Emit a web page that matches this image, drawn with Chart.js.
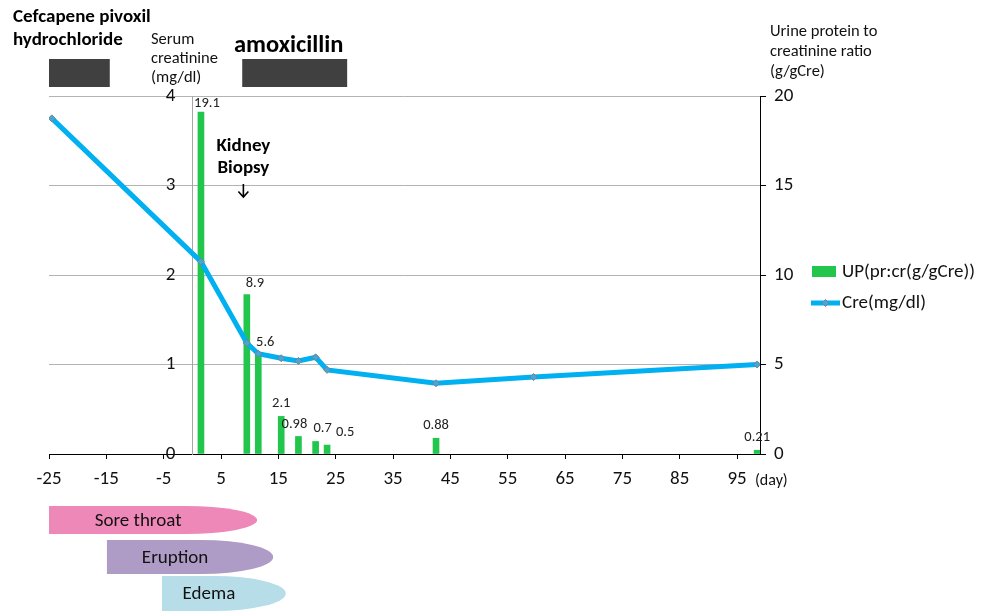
<!DOCTYPE html>
<html><head><meta charset="utf-8">
<script src="https://cdn.jsdelivr.net/npm/chart.js@4.4.1/dist/chart.umd.min.js"></script>
<style>html,body{margin:0;padding:0;background:#fff}#wrap{width:988px;height:611px;position:relative}</style>
</head><body><div id="wrap"><canvas id="c" width="988" height="611"></canvas></div>
<script>
// ---- data ----
const creDays = [-24.5, 1.5, 9.5, 11.5, 15.5, 18.5, 21.5, 23.5, 42.5, 59.5, 98.5];
const creValues = [3.75, 2.15, 1.24, 1.12, 1.07, 1.04, 1.08, 0.94, 0.79, 0.86, 1.0];
const upDays = [1.5, 9.5, 11.5, 15.5, 18.5, 21.5, 23.5, 42.5, 98.5];
const upValues = [19.1, 8.9, 5.6, 2.1, 0.98, 0.7, 0.5, 0.88, 0.21];
const upLabels = ['19.1', '8.9', '5.6', '2.1', '0.98', '0.7', '0.5', '0.88', '0.21'];
const xTicks = [-25, -15, -5, 5, 15, 25, 35, 45, 55, 65, 75, 85, 95];
const creTicks = [0, 1, 2, 3, 4];
const upTicks = [0, 5, 10, 15, 20];
const drugNames = ['Cefcapene pivoxil', 'amoxicillin'];
const drugStart = [-25, 8.7];
const drugEnd = [-14.4, 27];
const symptomNames = ['Sore throat', 'Eruption', 'Edema'];
const symptomStart = [-25, -14.9, -5.3];
const symptomEnd = [11.3, 14.1, 16.3];
const biopsyDay = 8.9;

// ---- style ----
const FF = 'Carlito, Calibri, Lato, "Open Sans", sans-serif';
const GREEN = '#22C64C';
const BLUE = '#00B0F0';
const labelOffsets = [[6, -9], [8, -11], [7, -11], [0, -13], [-4, -12], [7, -13], [18, -13], [0, -13], [0, -13]];
const symptomColors = ['#EE88B8', '#AE9BC6', '#B7DDE8'];
const symptomRows = [[506, 534], [540, 574], [576, 611]];

function txt(ctx, s, x, y, size, opts = {}) {
  ctx.save();
  ctx.font = (opts.bold ? 'bold ' : '') + size + 'px ' + FF;
  ctx.fillStyle = opts.color || '#000';
  ctx.textAlign = opts.align || 'left';
  ctx.textBaseline = 'middle';
  ctx.fillText(s, x, y);
  ctx.restore();
}

const annot = {
  id: 'annot',
  afterDraw(chart) {
    const ctx = chart.ctx;
    const xs = chart.scales.x, ys = chart.scales.y;
    // left axis labels (placed left of the day-0 axis)
    const axX = xs.getPixelForValue(0);
    creTicks.forEach(v => txt(ctx, String(v), axX - 17, ys.getPixelForValue(v), 19, {align: 'right', color: '#111'}));
    // bar value labels
    const meta = chart.getDatasetMeta(1);
    meta.data.forEach((el, i) => {
      txt(ctx, upLabels[i], el.x + labelOffsets[i][0], el.y + labelOffsets[i][1], 14.5, {align: 'center', color: '#222'});
    });
    // drug bars
    ctx.save();
    ctx.fillStyle = '#404040';
    for (let i = 0; i < drugNames.length; i++) {
      const a = xs.getPixelForValue(drugStart[i]), b = xs.getPixelForValue(drugEnd[i]);
      ctx.fillRect(a, 59, b - a, 28);
    }
    ctx.restore();
    txt(ctx, drugNames[0], 13, 17, 19, {bold: true});
    txt(ctx, 'hydrochloride', 13, 40, 19, {bold: true});
    txt(ctx, drugNames[1], 234, 46, 24.5, {bold: true});
    // axis titles
    txt(ctx, 'Serum', 151, 40, 16.5, {color: '#111'});
    txt(ctx, 'creatinine', 151, 59, 16.5, {color: '#111'});
    txt(ctx, '(mg/dl)', 151, 78, 16.5, {color: '#111'});
    txt(ctx, 'Urine protein to', 770, 32, 16.5, {color: '#111'});
    txt(ctx, 'creatinine ratio', 770, 52, 16.5, {color: '#111'});
    txt(ctx, '(g/gCre)', 770, 72, 16.5, {color: '#111'});
    txt(ctx, '(day)', 755, 481, 16, {color: '#111'});
    // kidney biopsy
    const bx = xs.getPixelForValue(biopsyDay);
    txt(ctx, 'Kidney', bx, 146, 19, {bold: true, align: 'center'});
    txt(ctx, 'Biopsy', bx, 168, 19, {bold: true, align: 'center'});
    ctx.save();
    ctx.strokeStyle = '#000'; ctx.lineWidth = 1.6;
    ctx.beginPath();
    ctx.moveTo(bx, 184); ctx.lineTo(bx, 197);
    ctx.moveTo(bx - 5, 191.5); ctx.lineTo(bx, 197); ctx.lineTo(bx + 5, 191.5);
    ctx.stroke();
    ctx.restore();
    // symptoms
    for (let i = 0; i < symptomNames.length; i++) {
      const a = xs.getPixelForValue(symptomStart[i]), b = xs.getPixelForValue(symptomEnd[i]);
      const [t, btm] = symptomRows[i];
      const rx = 72, ry = (btm - t) / 2, cy = (t + btm) / 2;
      ctx.save();
      ctx.fillStyle = symptomColors[i];
      ctx.beginPath();
      ctx.moveTo(a, t);
      ctx.lineTo(b - rx, t);
      ctx.ellipse(b - rx, cy, rx, ry, 0, -Math.PI / 2, Math.PI / 2);
      ctx.lineTo(a, btm);
      ctx.closePath();
      ctx.fill();
      ctx.restore();
      txt(ctx, symptomNames[i], (a + b) / 2 - 15, cy + 1, 19, {align: 'center', color: '#111'});
    }
    // legend
    ctx.save();
    ctx.fillStyle = GREEN;
    ctx.fillRect(812, 266, 24, 11);
    ctx.strokeStyle = BLUE; ctx.lineWidth = 5;
    ctx.beginPath(); ctx.moveTo(811, 303); ctx.lineTo(840, 303); ctx.stroke();
    ctx.fillStyle = '#3FA9DF'; ctx.strokeStyle = '#808080'; ctx.lineWidth = 1;
    ctx.beginPath(); ctx.moveTo(825.5, 299.5); ctx.lineTo(829, 303); ctx.lineTo(825.5, 306.5); ctx.lineTo(822, 303); ctx.closePath();
    ctx.fill(); ctx.stroke();
    ctx.restore();
    txt(ctx, chart.data.datasets[1].label, 842, 272, 19, {color: '#111'});
    txt(ctx, chart.data.datasets[0].label, 842, 303, 19, {color: '#111'});
  }
};

const tickFont = {family: FF, size: 19};
new Chart(document.getElementById('c'), {
  type: 'bar',
  data: {
    datasets: [
      {
        type: 'line', label: 'Cre(mg/dl)',
        data: creDays.map((d, i) => ({x: d, y: creValues[i]})),
        xAxisID: 'x', yAxisID: 'y',
        borderColor: BLUE, borderWidth: 5, tension: 0,
        pointStyle: 'rectRot', pointRadius: 3.5,
        pointBackgroundColor: '#3FA9DF', pointBorderColor: '#808080', pointBorderWidth: 1,
        order: 0
      },
      {
        type: 'bar', label: 'UP(pr:cr(g/gCre))',
        data: upDays.map((d, i) => ({x: d, y: upValues[i]})),
        xAxisID: 'x', yAxisID: 'y2',
        backgroundColor: GREEN, barThickness: 6,
        order: 1
      }
    ]
  },
  options: {
    responsive: false, animation: false,
    layout: {padding: {left: 49, top: 96, right: 0, bottom: 0}},
    plugins: {legend: {display: false}, tooltip: {enabled: false}},
    scales: {
      x: {
        type: 'linear', min: -25, max: 99, offset: false,
        afterBuildTicks: s => { s.ticks = xTicks.map(v => ({value: v})); },
        afterFit: s => { s.height = 157; },
        grid: {offset: false, drawOnChartArea: false, drawTicks: true, tickLength: 5, color: '#000'},
        border: {color: '#000', width: 1},
        ticks: {padding: 9, color: '#111', font: tickFont, autoSkip: false, maxRotation: 0}
      },
      y: {
        position: {x: 0}, min: 0, max: 4,
        afterBuildTicks: s => { s.ticks = creTicks.map(v => ({value: v})); },
        grid: {color: '#b3b3b3', drawTicks: false},
        border: {color: '#a6a6a6', width: 1},
        ticks: {display: false}
      },
      y2: {
        position: 'right', min: 0, max: 20,
        afterBuildTicks: s => { s.ticks = upTicks.map(v => ({value: v})); },
        afterFit: s => { s.width = 228; },
        grid: {drawOnChartArea: false, tickLength: 6, color: '#000'},
        border: {color: '#000', width: 1},
        ticks: {padding: 8, color: '#111', font: tickFont}
      }
    }
  },
  plugins: [annot]
});
</script>
</body></html>
